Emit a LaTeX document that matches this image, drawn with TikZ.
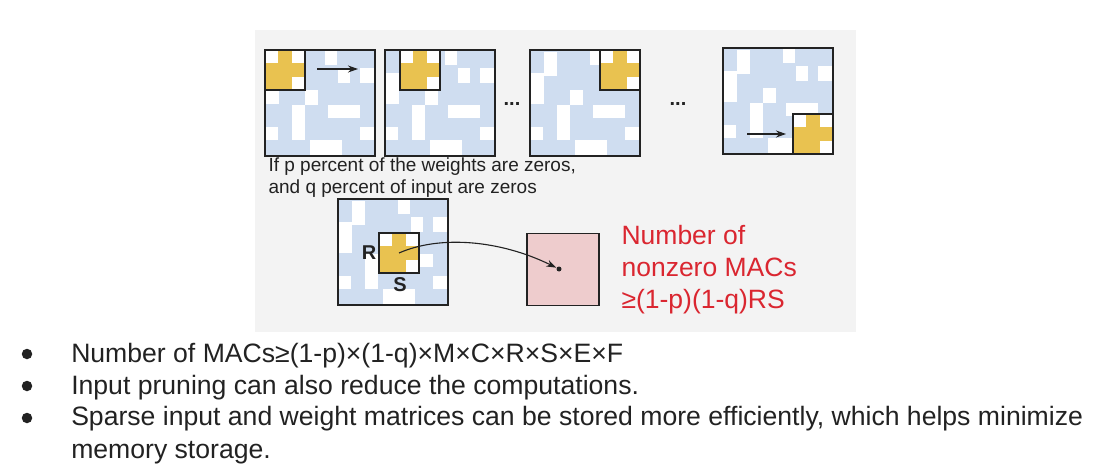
\documentclass[tikz,border=0pt]{standalone}
\usepackage{fontspec}
\setmainfont{Liberation Sans}
\usetikzlibrary{arrows.meta}

\definecolor{panelgray}{RGB}{243,243,243}
\definecolor{cellblue}{RGB}{207,221,240}
\definecolor{filteryellow}{RGB}{233,194,80}
\definecolor{outpink}{RGB}{238,204,205}
\definecolor{macred}{RGB}{218,38,48}
\definecolor{inkgray}{RGB}{34,34,34}

\begin{document}
\begin{tikzpicture}[x = 1pt, y = -1pt, line width = 1.1pt, inkgray]
		\useasboundingbox (0, 0) rectangle (1110, 470) ;
		\fill [panelgray] (255, 30) rectangle (856, 332) ;
		\foreach \gx/\gy/\fx/\fy/\gname in {265/50/0/0/a, 385/50/15/0/b, 530/50/70/0/c, 723/48/70/66/d, 338/199/41/34/e}{
			\begin{scope}[shift = {(\gx, \gy)}] % Input
				\fill [cellblue] (0, 0) rectangle (110, 106) ;
				\foreach \ax/\ay/\bx/\by in {1/23/14/54, 14/2/27/26, 60/0/72/15, 73/18/85/33, 95/18/109/33, 40/40/53/55, 27/55/40/90, 63/55/95/68, 0/77/13/90, 95/77/109/90, 45/90/77/106}{
					\fill [white] (\ax, \ay) rectangle (\bx, \by) ;
				}
				\begin{scope}[shift = {(\fx, \fy)}] % Weights
					\fill [filteryellow] (0, 0) rectangle (40, 40) ;
					\foreach \cx/\cy in {0/0, 2/0, 2/2}{
						\fill [white] (\cx*40/3, \cy*40/3) rectangle ++(40/3, 40/3) ;
					}
					\draw (0, 0) rectangle (40, 40) ;
					\coordinate (w\gname) at (20, 20) ;
				\end{scope}
				\draw (0, 0) rectangle (110, 106) ;
			\end{scope}
		}
		\coordinate (slidea) at (317, 69) ;
		\coordinate (slideb) at (358, 69) ;
		\coordinate (slidec) at (747, 134) ;
		\coordinate (slided) at (786, 134) ;
		\draw [-{Stealth[length = 10pt, width = 7pt]}] (slidea) -- (slideb) ;
		\draw [-{Stealth[length = 10pt, width = 7pt]}] (slidec) -- (slided) ;
		\node [anchor = base, font = \bfseries\fontsize{20}{24}\selectfont] (dotsa) at (512, 106) {...} ;
		\node [anchor = base, font = \bfseries\fontsize{20}{24}\selectfont] (dotsb) at (678, 106) {...} ;
		\node [anchor = base west, align = left, inner sep = 0, font = \fontsize{19}{22.3}\selectfont] (note) at (268, 194) {If p percent of the weights are zeros,\\and q percent of input are zeros} ;
		\node [font = \bfseries\fontsize{20}{24}\selectfont] (rlabel) at (369, 253) {R} ;
		\node [font = \bfseries\fontsize{20}{24}\selectfont] (slabel) at (400, 285) {S} ;
		\node [draw, fill = outpink, minimum size = 72pt, inner sep = 0] (out) at (563, 269.5) {} ;
		\node [circle, fill, minimum size = 5pt, inner sep = 0] (mac) at (559, 269) {} ;
		\draw [-{Stealth[length = 10pt, width = 7pt]}] (we) .. controls (440, 235) and (500, 240) .. (mac) ;
		\node [anchor = base west, align = left, inner sep = 0, text = macred, font = \fontsize{26.5}{32}\selectfont] (macs) at (621, 308) {Number of\\nonzero MACs\\≥(1-p)(1-q)RS} ;
		% Bullets
		\foreach \by/\bname in {354/a, 386/b, 418/c}{
			\node [circle, fill, minimum size = 10.5pt, inner sep = 0] (bullet\bname) at (27, \by) {} ;
		}
		\node [anchor = base west, inner sep = 0, font = \fontsize{26.6}{30}\selectfont] (linea) at (70.7, 362.3) {Number of MACs≥(1-p)×(1-q)×M×C×R×S×E×F} ;
		\node [anchor = base west, inner sep = 0, font = \fontsize{26.6}{30}\selectfont] (lineb) at (70.7, 394) {Input pruning can also reduce the computations.} ;
		\node [anchor = base west, inner sep = 0, font = \fontsize{26.6}{30}\selectfont] (linec) at (70.7, 425) {Sparse input and weight matrices can be stored more efficiently, which helps minimize} ;
		\node [anchor = base west, inner sep = 0, font = \fontsize{26.6}{30}\selectfont] (lined) at (70.7, 458) {memory storage.} ;
	\end{tikzpicture}
\end{document}
